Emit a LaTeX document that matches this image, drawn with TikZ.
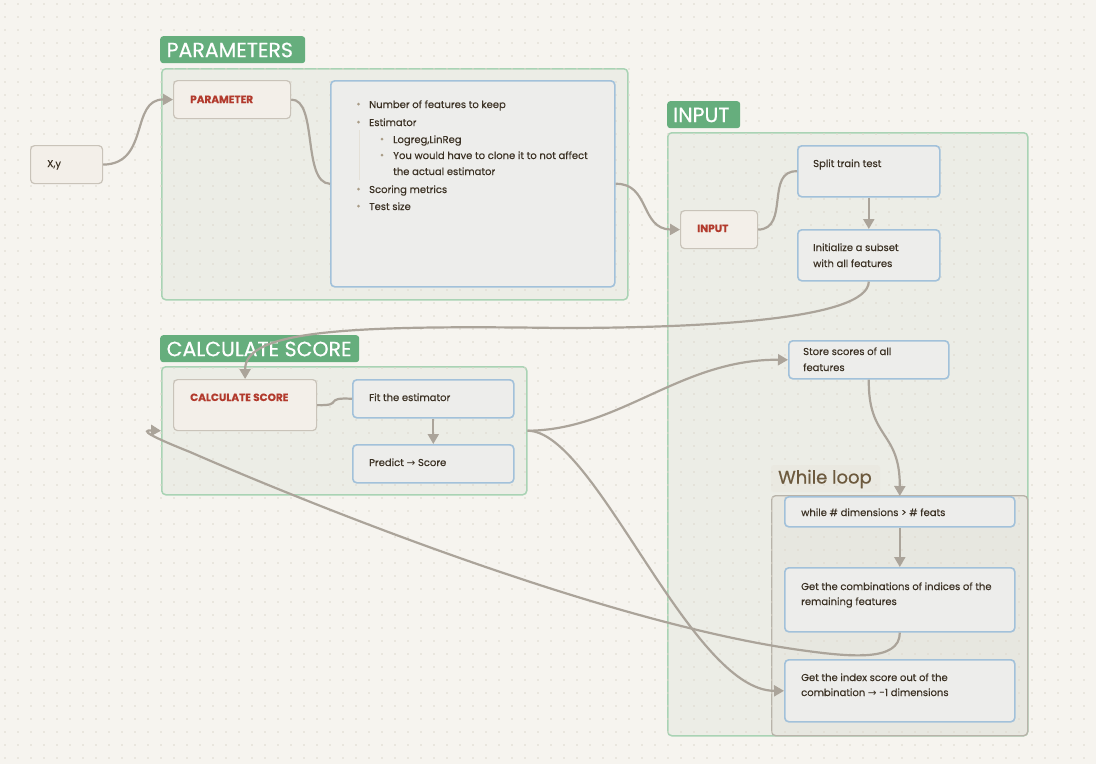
\documentclass[tikz,border=0pt]{standalone}
\usepackage{fontspec}
\setmainfont[FakeBold=0.25]{Poppins}
\newfontfamily\dejavu{DejaVu Sans}
\newfontfamily\lblfont[FakeBold=0.6]{Poppins}
\newfontfamily\redfont[FakeBold=0.3]{Poppins}
\usetikzlibrary{arrows.meta}
\definecolor{bgc}{HTML}{F6F4EF}
\definecolor{dotc}{HTML}{DDD8CD}
\definecolor{grpfill}{HTML}{ECEDE6}
\definecolor{grpline}{HTML}{A9D3B4}
\definecolor{lblfill}{HTML}{66AE7D}
\definecolor{bluefill}{HTML}{EDEDEB}
\definecolor{blueline}{HTML}{A2C1DA}
\definecolor{beigefill}{HTML}{F3EFE9}
\definecolor{beigeline}{HTML}{C9C3B9}
\definecolor{redtxt}{HTML}{B23A2D}
\definecolor{bodytxt}{HTML}{3B3124}
\definecolor{conn}{HTML}{ABA49A}
\definecolor{whfill}{HTML}{E7E7E0}
\definecolor{whline}{HTML}{B8B3A9}
\definecolor{whtxt}{HTML}{6D5A3E}
\definecolor{whlblfill}{HTML}{EAE9E1}
\definecolor{bulc}{HTML}{A99C86}
\begin{document}
\begin{tikzpicture}[x=1pt,y=-1pt,
  grp/.style={draw=grpline, fill=grpfill, line width=1.5pt, rounded corners=4pt},
  whgrp/.style={draw=whline, fill=whfill, line width=1.3pt, rounded corners=4pt},
  lbl/.style={fill=lblfill, rounded corners=3pt, inner sep=0pt, anchor=north west},
  lbltxt/.style={text=white, font=\lblfont\fontsize{20.5}{22}\selectfont, inner sep=0pt, anchor=west},
  bluebox/.style={draw=blueline, fill=bluefill, line width=1.6pt, rounded corners=4pt, anchor=north west, inner sep=0pt},
  beigebox/.style={draw=beigeline, fill=beigefill, line width=1.2pt, rounded corners=4pt, anchor=north west, inner sep=0pt},
  txt/.style={text=bodytxt, font=\fontsize{10}{12}\selectfont, inner sep=0pt, anchor=base west},
  redt/.style={text=redtxt, font=\redfont\bfseries\fontsize{10.5}{12}\selectfont, inner sep=0pt, anchor=base west},
  wire/.style={draw=conn, line width=2.2pt},
  arr/.style={wire, -{Triangle[length=10pt,width=11pt]}},
]
\useasboundingbox (0,0) rectangle (1096,764);
\fill[bgc] (0,0) rectangle (1096,764);

% groups
\node[grp, anchor=north west, minimum width=466pt, minimum height=231pt] (pgrp) at (161,68) {};
\node[grp, anchor=north west, minimum width=360pt, minimum height=603pt] (igrp) at (667,132) {};
\node[grp, anchor=north west, minimum width=365pt, minimum height=128pt] (cgrp) at (161,366) {};
\node[whgrp, anchor=north west, minimum width=256pt, minimum height=240pt] (wgrp) at (771,495) {};
\fill[whlblfill, rounded corners=3pt] (771,465) rectangle (880,492);

% dot grid
\foreach \yy in {4,17,...,764} {
  \draw[dotc, line width=1.7pt, line cap=round, dash pattern=on 0pt off 13pt] (5,\yy) -- (1096,\yy);
}

% group labels
\node[lbl, minimum width=145pt, minimum height=27pt] (plbl) at (160,36) {};
\node[lbltxt] at (166.5,50) {PARAMETERS};
\node[lbl, minimum width=73pt, minimum height=27pt] (ilbl) at (667,101) {};
\node[lbltxt] at (673,115) {INPUT};
\node[lbl, minimum width=199pt, minimum height=27pt] (clbl) at (160,335) {};
\node[lbltxt] at (166.5,349) {CALCULATE SCORE};
\node[text=whtxt, font=\lblfont\fontsize{18}{20}\selectfont, inner sep=0pt, anchor=west] (wlbl) at (778,479) {While loop};

% nodes
\node[beigebox, minimum width=72pt, minimum height=38pt] (xy) at (30,145) {};
\node[txt] at (47,167) {X,y};
\node[beigebox, minimum width=117pt, minimum height=38pt] (param) at (173,80) {};
\node[redt] at (190,103) {PARAMETER};
\node[bluebox, minimum width=284pt, minimum height=206pt] (plist) at (330,80) {};
\draw[dotc!70!bgc, line width=1pt] (359,130) -- (359,180);
\foreach \yy in {104,122,189,206} { \fill[bulc] (358.5,\yy) circle (1.5pt); }
\foreach \yy in {139,155} { \fill[bulc] (382,\yy) circle (1.5pt); }
\node[txt] at (369,108) {Number of features to keep};
\node[txt] at (369,126) {Estimator};
\node[txt] at (393,143) {Logreg,LinReg};
\node[txt] at (393,159) {You would have to clone it to not affect};
\node[txt] at (393,175) {the actual estimator};
\node[txt] at (369,193) {Scoring metrics};
\node[txt] at (369,210) {Test size};

\node[beigebox, minimum width=77pt, minimum height=38pt] (inp) at (680,210) {};
\node[redt] at (697,232) {INPUT};
\node[bluebox, minimum width=142pt, minimum height=51pt] (split) at (797,145) {};
\node[txt] at (813,167) {Split train test};
\node[bluebox, minimum width=142pt, minimum height=51pt] (init) at (797,229) {};
\node[txt] at (813,251) {Initialize a subset};
\node[txt] at (813,267) {with all features};
\node[bluebox, minimum width=160pt, minimum height=38pt] (store) at (788,340) {};
\node[txt] at (803,355) {Store scores of all};
\node[txt] at (803,371) {features};

\node[bluebox, minimum width=230pt, minimum height=30pt] (while) at (784,496) {};
\node[txt] at (801,516) {while \# dimensions > \# feats};
\node[bluebox, minimum width=230pt, minimum height=64pt] (comb) at (784,567) {};
\node[txt] at (801,590) {Get the combinations of indices of the};
\node[txt] at (801,605) {remaining features};
\node[bluebox, minimum width=230pt, minimum height=62pt] (idx) at (784,659) {};
\node[txt] at (801,681) {Get the index score out of the};
\node[txt] at (801,696) {combination {\dejavu\fontsize{10.5}{12}\selectfont →} -1 dimensions};

\node[beigebox, minimum width=143pt, minimum height=51pt] (calc) at (173,379) {};
\node[redt] at (190,401) {CALCULATE SCORE};
\node[bluebox, minimum width=161pt, minimum height=38pt] (fit) at (352,379) {};
\node[txt] at (369,401) {Fit the estimator};
\node[bluebox, minimum width=161pt, minimum height=38pt] (pred) at (352,444) {};
\node[txt] at (369,466) {Predict {\dejavu\fontsize{10.5}{12}\selectfont →} Score};

% connectors
\draw[arr] (xy.east) .. controls (150,164) and (130,99) .. (param.west);
\draw[wire] (param.east) .. controls (318,99) and (302,183) .. (plist.west);
\draw[arr] (plist.east) .. controls (650,183) and (640,229) .. (inp.west);
\draw[wire] (inp.east) .. controls (790,229) and (765,170) .. (split.west);
\draw[arr] (split.south) -- (init.north);
\draw[arr] (init.south) .. controls (868,320) and (700,328) .. (560,328) .. controls (350,325) and (245,330) .. (calc.north);
\draw[wire] (calc.east) .. controls (345,406) and (322,397) .. (fit.west);
\draw[arr] (fit.south) -- (pred.north);
\draw[arr] (cgrp.east) .. controls (620,430) and (680,359) .. (store.west);
\draw[arr] (cgrp.east) .. controls (595,430) and (690,691) .. (idx.west);
\draw[arr] (store.south) .. controls (868,440) and (900,430) .. (while.north);
\draw[arr] (while.south) -- (comb.north);
\draw[arr] (comb.south) .. controls (900,662) and (850,657) .. (800,650) .. controls (600,622) and (300,500) .. (190,452) .. controls (150,436) and (140,430) .. (cgrp.west);
\end{tikzpicture}
\end{document}
